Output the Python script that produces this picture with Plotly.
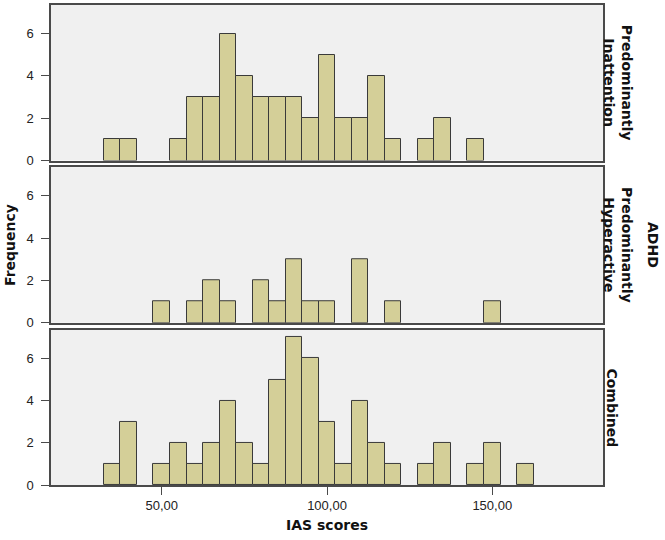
import plotly.graph_objects as go

# Bin centers (IAS scores) and frequencies per ADHD subtype
inatt_bins = [35, 40, 55, 60, 65, 70, 75, 80, 85, 90, 95, 100, 105, 110, 115, 120, 130, 135, 145]
inatt_freq = [1, 1, 1, 3, 3, 6, 4, 3, 3, 3, 2, 5, 2, 2, 4, 1, 1, 2, 1]

hyper_bins = [50, 60, 65, 70, 80, 85, 90, 95, 100, 110, 120, 150]
hyper_freq = [1, 1, 2, 1, 2, 1, 3, 1, 1, 3, 1, 1]

comb_bins = [35, 40, 50, 55, 60, 65, 70, 75, 80, 85, 90, 95, 100, 105, 110, 115, 120, 130, 135, 145, 150, 160]
comb_freq = [1, 3, 1, 2, 1, 2, 4, 2, 1, 5, 7, 6, 3, 1, 4, 2, 1, 1, 2, 1, 2, 1]

panel_labels = ["Predominantly<br>Inattention", "Predominantly<br>Hyperactive", "Combined"]
group_title = "ADHD"
x_tickvals = [50, 100, 150]
x_ticktext = ["50,00", "100,00", "150,00"]
y_tickvals = [0, 2, 4, 6]

BIN_W = 5
FILL = "#D4CF98"
EDGE = "#3a3a3a"
BG = "#F0F0F0"
BORDER = "#4a4a4a"

fig = go.Figure()
series = [(inatt_bins, inatt_freq), (hyper_bins, hyper_freq), (comb_bins, comb_freq)]
for i, (b, f) in enumerate(series):
    ax = "" if i == 0 else str(i + 1)
    fig.add_trace(go.Bar(
        x=b, y=f, width=BIN_W,
        marker=dict(color=FILL, line=dict(color=EDGE, width=1)),
        xaxis="x" + ax, yaxis="y" + ax, showlegend=False,
        hoverinfo="x+y",
    ))

domains = [[0.676, 1.0], [0.338, 0.662], [0.0, 0.323]]
tickfont = dict(family="Liberation Sans, Arial, sans-serif", size=13, color="#222")
layout = dict(
    width=665, height=540,
    margin=dict(l=51, r=62, t=3, b=55),
    paper_bgcolor="white",
    plot_bgcolor=BG,
    bargap=0,
)
for i in range(3):
    ax = "" if i == 0 else str(i + 1)
    bottom = (i == 2)
    layout["xaxis" + ax] = dict(
        domain=[0, 1], range=[16.5, 183.5], anchor="y" + ax,
        showline=True, mirror=True, linecolor=BORDER, linewidth=1.5,
        showgrid=False, zeroline=False,
        tickvals=x_tickvals if bottom else [],
        ticktext=x_ticktext if bottom else [],
        ticks="outside" if bottom else "", ticklen=8, tickcolor=BORDER,
        showticklabels=bottom, tickfont=tickfont,
        matches=None if i == 0 else "x",
    )
    layout["yaxis" + ax] = dict(
        domain=domains[i], range=[0, 7.35], anchor="x" + ax,
        showline=True, mirror=True, linecolor=BORDER, linewidth=1.5,
        showgrid=False, zeroline=False,
        tickvals=y_tickvals, ticks="outside", ticklen=8, tickcolor=BORDER,
        tickfont=tickfont, ticklabelstandoff=5,
    )
layout["xaxis3"]["title"] = dict(text="<b>IAS scores</b>", standoff=8,
                                 font=dict(family="DejaVu Sans", size=14, color="#111"))
fig.update_layout(**layout)

lab_font = dict(family="DejaVu Sans", size=14, color="#111")
centers_y = [(d[0] + d[1]) / 2 for d in domains]
for i, lab in enumerate(panel_labels):
    two = "<br>" in lab
    fig.add_annotation(
        text="<b>" + lab + "</b>", xref="paper", yref="paper",
        x=(618 - 51) / 552 if two else (612 - 51) / 552, y=centers_y[i],
        xanchor="center", yanchor="middle", showarrow=False,
        textangle=90, font=lab_font,
    )
fig.add_annotation(
    text="<b>" + group_title + "</b>", xref="paper", yref="paper",
    x=(653 - 51) / 552, y=centers_y[1], xanchor="center", yanchor="middle",
    showarrow=False, textangle=90, font=lab_font,
)
fig.add_annotation(
    text="<b>Frequency</b>", xref="paper", yref="paper",
    x=(10 - 51) / 552, y=centers_y[1], xanchor="center", yanchor="middle",
    showarrow=False, textangle=-90, font=dict(family="DejaVu Sans", size=14, color="#111"),
)

fig.write_html("out.html", config={"displayModeBar": False},
               post_script="document.body.style.margin='0';")
